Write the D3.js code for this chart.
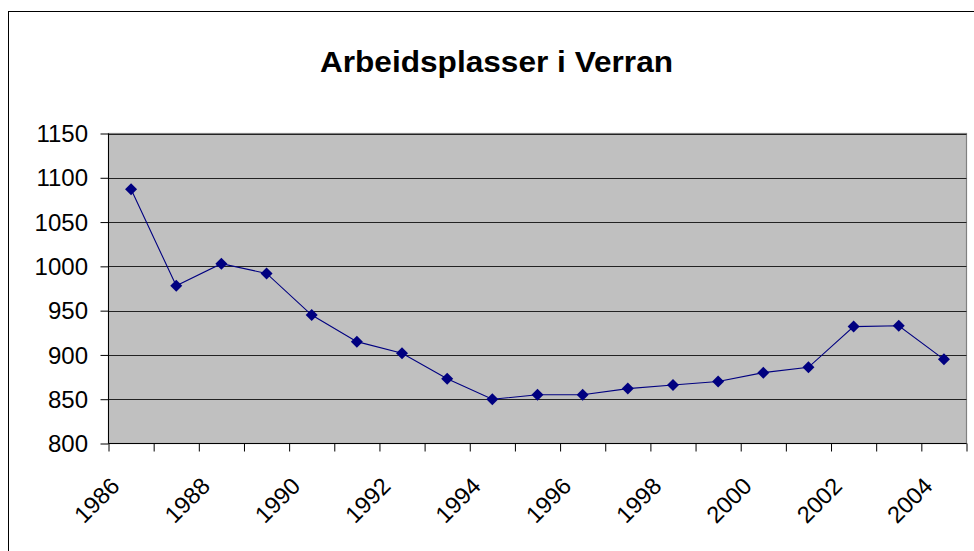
<!DOCTYPE html>
<html>
<head>
<meta charset="utf-8">
<script src="https://cdn.jsdelivr.net/npm/d3@7"></script>
<style>
  html, body { margin: 0; padding: 0; background: #fff; }
  svg { display: block; }
  text { font-family: "Liberation Sans", Arial, sans-serif; fill: #000; }
</style>
</head>
<body>
<svg id="chart" width="974" height="551"></svg>
<script>
const title = "Arbeidsplasser i Verran";
const years = [1986,1987,1988,1989,1990,1991,1992,1993,1994,1995,1996,1997,1998,1999,2000,2001,2002,2003,2004];
const values = [1087,978,1003,992,945,915,902,873,850,855,855,862,866,870,880,886,932,933,895];
const yTicks = [800,850,900,950,1000,1050,1100,1150];
const xLabelYears = [1986,1988,1990,1992,1994,1996,1998,2000,2002,2004];

const svg = d3.select("#chart");
const W = 974, H = 551;
const plot = { left: 108.5, top: 133.5, right: 966.5, bottom: 443.5 };

// outer chart border
svg.append("rect")
  .attr("x", 8.5).attr("y", 11.5)
  .attr("width", W + 10).attr("height", H + 10)
  .attr("fill", "#fff").attr("stroke", "#000").attr("stroke-width", 1);

const x = d3.scaleBand().domain(years).range([plot.left, plot.right]).padding(0);
const y = d3.scaleLinear().domain([800, 1150]).range([plot.bottom, plot.top]);

// plot area
svg.append("rect")
  .attr("x", plot.left).attr("y", plot.top)
  .attr("width", plot.right - plot.left).attr("height", plot.bottom - plot.top)
  .attr("fill", "#C0C0C0").attr("stroke", "#808080").attr("stroke-width", 1.2);

// gridlines
svg.append("g").selectAll("line")
  .data(yTicks.filter(d => d !== 800))
  .join("line")
  .attr("x1", plot.left).attr("x2", plot.right)
  .attr("y1", d => Math.round(y(d)) + 0.5).attr("y2", d => Math.round(y(d)) + 0.5)
  .attr("stroke", "#222").attr("stroke-width", 1.1);

// y axis
const yAxis = d3.axisLeft(y).tickValues(yTicks).tickSize(8).tickFormat("");
const gy = svg.append("g").attr("transform", `translate(${plot.left},0)`).call(yAxis);
gy.select(".domain").remove();
gy.selectAll(".tick line").attr("stroke", "#000");
svg.append("line")
  .attr("x1", plot.left).attr("x2", plot.left)
  .attr("y1", plot.top).attr("y2", plot.bottom)
  .attr("stroke", "#000");

svg.append("g").selectAll("text")
  .data(yTicks)
  .join("text")
  .attr("transform", d => `translate(88,${y(d)})`)
  .attr("text-anchor", "end")
  .attr("dy", "0.36em")
  .style("font-size", "24px")
  .text(d => d);

// x axis
const xTickScale = d3.scaleLinear().domain([0, years.length]).range([plot.left, plot.right]);
const xAxis = d3.axisBottom(xTickScale).tickValues(d3.range(0, years.length + 1)).tickSize(8).tickFormat("");
const gx = svg.append("g").attr("transform", `translate(0,${plot.bottom})`).call(xAxis);
gx.select(".domain").attr("stroke", "#000").attr("d", `M${plot.left},0H${plot.right}`);
gx.selectAll(".tick line").attr("stroke", "#000");

svg.append("g").selectAll("text")
  .data(xLabelYears)
  .join("text")
  .attr("transform", d => `translate(${x(d) + x.bandwidth() / 2 - 10},${plot.bottom + 44}) rotate(-45)`)
  .attr("text-anchor", "end")
  .style("font-size", "23.5px")
  .text(d => d);

// line
const line = d3.line()
  .x((d, i) => x(years[i]) + x.bandwidth() / 2)
  .y(d => y(d));
svg.append("path")
  .datum(values)
  .attr("d", line)
  .attr("fill", "none")
  .attr("stroke", "#000080")
  .attr("stroke-width", 1.1);

// markers
svg.append("g").selectAll("path")
  .data(values)
  .join("path")
  .attr("transform", (d, i) => `translate(${x(years[i]) + x.bandwidth() / 2},${y(d)})`)
  .attr("d", "M0,-6L6,0L0,6L-6,0Z")
  .attr("fill", "#000080");

// title
svg.append("text")
  .attr("transform", "translate(496.5,72) scale(1.09,1)")
  .attr("text-anchor", "middle")
  .style("font-size", "29px")
  .style("font-weight", "bold")
  .text(title);
</script>
</body>
</html>
